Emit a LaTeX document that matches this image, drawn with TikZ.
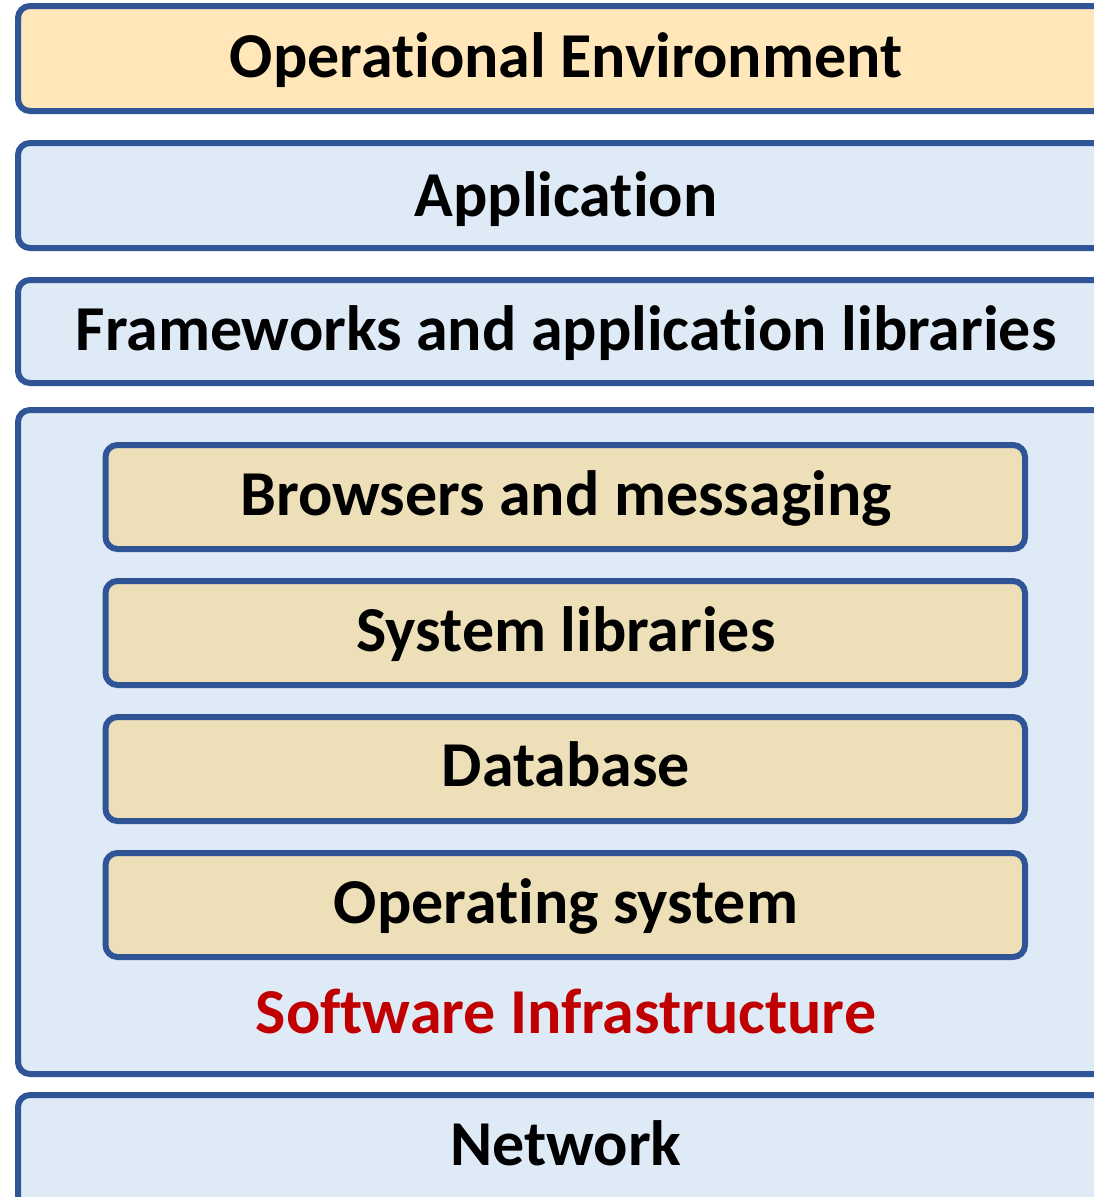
\documentclass[tikz,border=0pt]{standalone}
\usepackage{fontspec}
\setmainfont[Ligatures={NoCommon}]{Carlito}
\definecolor{edge}{HTML}{2F5597}
\definecolor{yel}{HTML}{FFE7B9}
\definecolor{lblue}{HTML}{DEEAF6}
\definecolor{tan}{HTML}{EDDFB8}
\definecolor{dred}{HTML}{C00000}
\tikzset{
  layer/.style={draw=edge, line width=6pt, rounded corners=12pt},
  txt/.style={font=\fontsize{64}{76}\selectfont\bfseries, inner sep=0pt, anchor=base},
}
\begin{document}
\begin{tikzpicture}[x=1pt,y=-1pt]
\clip (0,0) rectangle (1094,1197);
\path[use as bounding box] (0,0) rectangle (1094,1197);
% outer layers
\path[layer, fill=yel] (18,6) rectangle (1140,111);
\node[txt] (openv) at (566,77) {Operational Environment};
\path[layer, fill=lblue] (18,143) rectangle (1140,248);
\node[txt] (app) at (566,216) {Application};
\path[layer, fill=lblue] (18,280) rectangle (1140,383);
\node[txt] (fw) at (566,350) {Frameworks and application libraries};
\path[layer, fill=lblue] (18,410) rectangle (1140,1074);
\path[layer, fill=lblue] (18,1095) rectangle (1140,1260);
\node[txt] (net) at (566,1165) {Network};
% inner layers
\path[layer, fill=tan] (105.5,445) rectangle (1025,549);
\node[txt] (brow) at (566,515) {Browsers and messaging};
\path[layer, fill=tan] (105.5,581) rectangle (1025,685);
\node[txt] (syslib) at (566,651) {System libraries};
\path[layer, fill=tan] (105.5,717) rectangle (1025,821);
\node[txt] (db) at (566,786) {Database};
\path[layer, fill=tan] (105.5,853) rectangle (1025,957);
\node[txt] (os) at (566,923) {Operating system};
\node[txt, text=dred] (swinf) at (566,1033) {Software Infrastructure};
\end{tikzpicture}
\end{document}
